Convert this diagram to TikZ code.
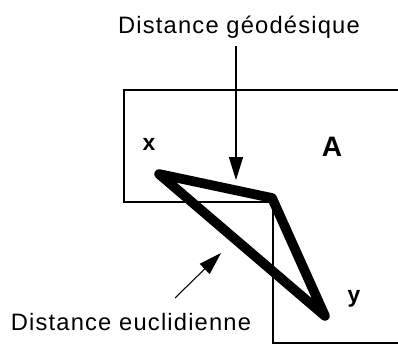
\documentclass[tikz,border=0pt]{standalone}
\usepackage{fontspec}
\setmainfont{Liberation Sans}
\newfontfamily\spacedfont[LetterSpace=5]{Liberation Sans}
\usetikzlibrary{arrows.meta, positioning}

\begin{document}
\begin{tikzpicture}[x=0.02cm, y=-0.02cm,
        border/.style={line width=1.3pt},
        path/.style={line width=5.5pt, line join=round, line cap=round},
        lbl/.style={font=\spacedfont\fontsize{13.5}{16}\selectfont, inner sep=0pt},
        pt/.style={font=\bfseries\fontsize{13}{15}\selectfont, inner sep=0pt},
        arr/.style={-{Triangle[length=13pt, width=8pt]}, line width=0.6pt}
    ]
        \useasboundingbox (0,0) rectangle (398,344);
        % the set A
        \draw[border] (398,90) -- (124,90) -- (124,202) -- (273,202) -- (273,343) -- (398,343);
        \coordinate (px) at (159,174);
        \coordinate (pc) at (272,198);
        \coordinate (py) at (325,316);
        \draw[path] (px) -- (pc) -- (py) -- cycle;
        \node[pt] (lx) at (149,144) {x};
        \node[pt, font=\bfseries\fontsize{16}{19}\selectfont] (la) at (332,147) {A};
        \node[pt] (ly) at (354,299) {y};
        \node[lbl] (lgeo) at (239,27) {Distance géodésique};
        \node[lbl] (leuc) at (131,322) {Distance euclidienne};
        \coordinate (gtip) at (236,180);
        \coordinate (etail) at (175,298);
        \coordinate (etip) at (221,253);
        \draw[arr, shorten <=4pt] (lgeo.south -| gtip) -- (gtip);
        \draw[arr] (etail) -- (etip);
    \end{tikzpicture}
\end{document}
